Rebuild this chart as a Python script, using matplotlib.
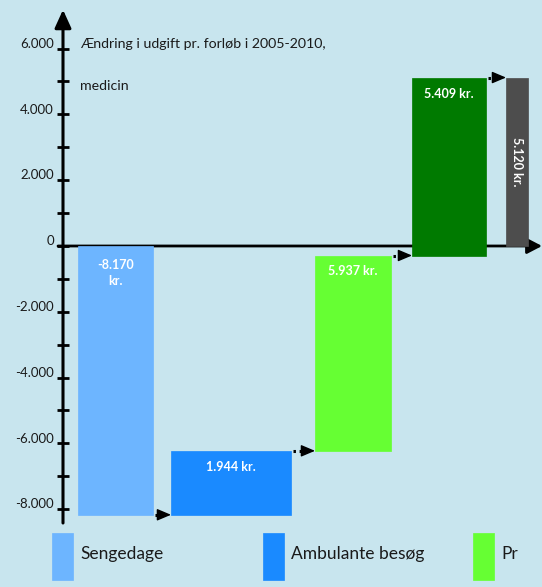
import matplotlib
matplotlib.use("Agg")
import matplotlib.pyplot as plt
from matplotlib.patches import Rectangle

# ---------------- data ----------------
legend_labels = ["Sengedage", "Ambulante besøg", "Pr"]
changes = [-8170, 1944, 5937, 5409]
total = 5120
bar_labels = ["-8.170\nkr.", "1.944 kr.", "5.937 kr.", "5.409 kr."]
total_label = "5.120 kr."
y_ticks = list(range(-8000, 7000, 1000))
y_labeled = list(range(-8000, 7000, 2000))
note_lines = ["Ændring i udgift pr. forløb i 2005-2010,", "medicin"]

# ---------------- style / layout ----------------
BG = "#c8e5ee"
colors = ["#6db5ff", "#1a8aff", "#66ff33", "#007a00"]
total_color = "#4d4d4d"
bar_x = [115.5, 231, 353, 449]
bar_w = [75, 120, 76, 74]
total_x, total_w = 517, 22
FONT = "Lato"

fig = plt.figure(figsize=(5.42, 5.87), dpi=100)
fig.patch.set_facecolor(BG)
ax = fig.add_axes([0, 0, 1, 1])
ax.set_facecolor(BG)
ax.axis("off")
ax.set_xlim(0, 542)
ax.set_ylim(-10365, 7477)

# axes with arrows
ax.annotate("", xy=(63, 7180), xytext=(63, -8420),
            arrowprops=dict(arrowstyle="-|>,head_length=1.1,head_width=0.5",
                            color="black", lw=2.2, shrinkA=0, shrinkB=0))
ax.annotate("", xy=(542, 0), xytext=(58, 0),
            arrowprops=dict(arrowstyle="-|>,head_length=0.9,head_width=0.47",
                            color="black", lw=2.0, shrinkA=0, shrinkB=0))

for v in y_ticks:
    ax.plot([57, 69], [v, v], color="black", lw=2, solid_capstyle="butt")
for v in y_labeled:
    ax.annotate(f"{v:,}".replace(",", "."), xy=(54, v), xytext=(0, 3.5),
                textcoords="offset points", ha="right", va="center",
                fontsize=9.5, family=FONT, color="#1a1a1a")

# waterfall bars
level = 0
levels = []
for i, c in enumerate(changes):
    bottom = level if c >= 0 else level + c
    ax.bar(bar_x[i], abs(c), width=bar_w[i], bottom=bottom, color=colors[i],
           edgecolor=colors[i], lw=0.5, zorder=3)
    top = max(level, level + c)
    if i == 0:
        ax.annotate(bar_labels[i], xy=(bar_x[i], top), xytext=(0, -9.5),
                    textcoords="offset points", ha="center", va="top",
                    fontsize=9, fontweight="bold", family=FONT, color="white",
                    linespacing=1.35, zorder=4)
    else:
        ax.annotate(bar_labels[i], xy=(bar_x[i], top), xytext=(0, -11.5),
                    textcoords="offset points", ha="center", va="center",
                    fontsize=9, fontweight="bold", family=FONT, color="white",
                    zorder=4)
    level += c
    levels.append(level)

ax.bar(total_x, total, width=total_w, bottom=0, color=total_color,
       edgecolor=total_color, lw=0.5, zorder=3)
ax.text(total_x, total / 2, total_label, rotation=-90, ha="center", va="center",
        fontsize=9, fontweight="bold", family=FONT, color="white", zorder=4)

# connector arrows
next_left = [bar_x[i + 1] - bar_w[i + 1] / 2 for i in range(len(changes) - 1)] + [total_x - total_w / 2]
for i, lv in enumerate(levels):
    x0 = bar_x[i] + bar_w[i] / 2
    x1 = next_left[i]
    ax.plot([x0 + 2, x1 - 11], [lv, lv], color="black", lw=2.2,
            ls=(0, (0.8, 1.2)), zorder=5)
    ax.annotate("", xy=(x1, lv), xytext=(x1 - 12, lv),
                arrowprops=dict(arrowstyle="-|>,head_length=0.85,head_width=0.36",
                                color="black", lw=1, shrinkA=0, shrinkB=0),
                zorder=5)

# note text
ax.text(80, 6150, note_lines[0], ha="left", va="center", fontsize=10.2,
        family=FONT, color="#1a1a1a")
ax.text(80, 4870, note_lines[1], ha="left", va="center", fontsize=10.2,
        family=FONT, color="#1a1a1a")

# legend (pixel coordinates overlay)
lax = fig.add_axes([0, 0, 1, 1])
lax.axis("off")
lax.set_xlim(0, 542)
lax.set_ylim(587, 0)
leg_x = [52, 263, 473]
for i, lab in enumerate(legend_labels):
    lax.add_patch(Rectangle((leg_x[i], 533), 21, 47, facecolor=colors[i],
                            edgecolor=colors[i], lw=0.5))
    lax.text(leg_x[i] + 28, 554, lab, ha="left", va="center", fontsize=12.5,
             family=FONT, color="#1a1a1a")

fig.savefig("out.png", dpi=100, facecolor=BG)
